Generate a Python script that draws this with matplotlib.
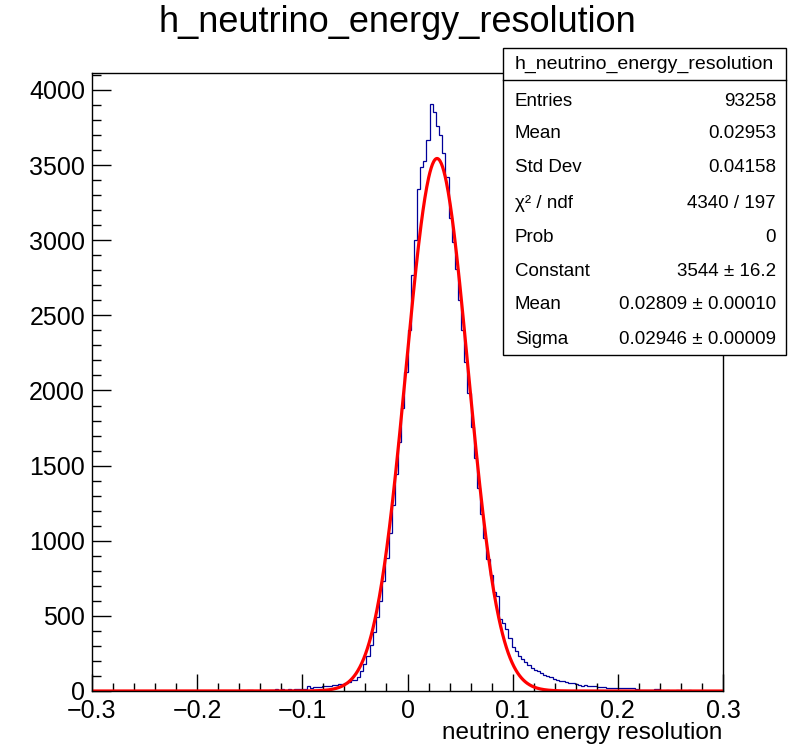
import numpy as np
import matplotlib
matplotlib.use("Agg")
import matplotlib.pyplot as plt
from matplotlib.patches import Rectangle
from matplotlib.lines import Line2D
from matplotlib.ticker import MultipleLocator

plt.rcParams['font.family'] = ['Liberation Sans', 'DejaVu Sans']

# histogram: 200 bins from -0.3 to 0.3, counts
x_min, x_max, n_bins = -0.3, 0.3, 200
counts = [
    # -0.300 .. -0.156
    0, 0, 0, 0, 0, 0, 0, 0, 0, 0, 0, 0, 0, 0, 0, 0, 0, 0, 0, 0,
    0, 0, 0, 0, 0, 0, 0, 0, 0, 0, 0, 0, 0, 0, 0, 0, 0, 0, 0, 0,
    0, 0, 0, 0, 1, 0, 0, 2,
    # -0.156 .. -0.051
    2, 8, 6, 0, 2, 0, 3, 0, 9, 7, 10, 2, 11, 9, 12, 5, 10, 12, 11, 13,
    30, 22, 25, 24, 27, 30, 34, 36, 38, 42, 44, 46, 52, 60, 72, 75,
    # -0.048 .. -0.003
    92, 135, 180, 235, 305, 390, 490, 600, 735, 885, 1050, 1240, 1445, 1660, 1885, 2120,
    # 0.000 .. 0.036
    2400, 2770, 3000, 3340, 3490, 3530, 3665, 3905, 3855, 3760, 3700, 3580, 3420,
    # 0.039 .. 0.084
    3150, 2990, 2810, 2600, 2400, 2190, 1980, 1760, 1550, 1350, 1180, 1020, 880, 770, 660, 630,
    # 0.087 .. 0.300
    480, 450, 410, 355, 290, 265, 235, 215, 190, 170, 155, 140, 130, 120, 108, 100, 90, 82,
    70, 68, 66, 62, 52, 50, 48, 40, 36, 38, 34, 36, 32, 29, 28, 27,
    22, 20, 21, 19, 20, 18, 19, 17, 18, 16, 6, 8, 5, 7, 4, 15, 14,
    3, 2, 4, 3, 2, 5, 3, 2, 3, 4, 2, 1, 3, 2, 1, 2, 1, 1, 2, 1,
]

# gaus fit parameters from the stats box
fit_constant = 3544
fit_mean = 0.02809
fit_sigma = 0.02946

hist_name = "h_neutrino_energy_resolution"
x_title = "neutrino energy resolution"
x_ticks = [-0.3, -0.2, -0.1, 0.0, 0.1, 0.2, 0.3]
x_tick_labels = ["\u22120.3", "\u22120.2", "\u22120.1", "0", "0.1", "0.2", "0.3"]
y_ticks = [0, 500, 1000, 1500, 2000, 2500, 3000, 3500, 4000]

stat_labels = ["Entries", "Mean", "Std Dev", "\u03c7\u00b2 / ndf", "Prob", "Constant", "Mean", "Sigma"]
stat_values = ["93258", "0.02953", "0.04158", "4340 / 197", "0",
               "3544 \u00b1 16.2", "0.02809 \u00b1 0.00010", "0.02946 \u00b1 0.00009"]

W, H = 798, 746
fig = plt.figure(figsize=(W / 100, H / 100), dpi=100)
ax = fig.add_axes([92 / W, 55 / H, 631 / W, 618 / H])

edges = np.linspace(x_min, x_max, n_bins + 1)
ax.stairs(counts, edges, color='#000099', linewidth=0.9)

xf = np.linspace(x_min, x_max, 1000)
yf = fit_constant * np.exp(-0.5 * ((xf - fit_mean) / fit_sigma) ** 2)
ax.plot(xf, yf, color='#ff0000', linewidth=2.3, solid_joinstyle='round')

ax.set_xlim(x_min, x_max)
ax.set_ylim(0, 4113)
ax.set_xticks(x_ticks)
ax.set_xticklabels(x_tick_labels)
ax.set_yticks(y_ticks)
ax.xaxis.set_minor_locator(MultipleLocator(0.02))
ax.yaxis.set_minor_locator(MultipleLocator(100))
ax.tick_params(which='both', direction='in', top=False, right=False, labelsize=18, width=1)
ax.tick_params(axis='x', which='major', length=12.5, pad=6)
ax.tick_params(axis='x', which='minor', length=6)
ax.tick_params(axis='y', which='major', length=13.5, pad=5)
ax.tick_params(axis='y', which='minor', length=6.5)
for s in ax.spines.values():
    s.set_linewidth(1)

fig.text(397 / W, 1 - 22 / H, hist_name, ha='center', va='center', fontsize=26)
fig.text(722 / W, 1 - 733 / H, x_title, ha='right', va='center', fontsize=17.5)

# stats box
bx0, bx1, by0, by1 = 503, 786, 48, 355
fig.patches.append(Rectangle((bx0 / W, 1 - by1 / H), (bx1 - bx0) / W, (by1 - by0) / H,
                             transform=fig.transFigure, facecolor='white',
                             edgecolor='black', linewidth=1, zorder=5))
fig.lines.append(Line2D([bx0 / W, bx1 / W], [1 - 80 / H, 1 - 80 / H],
                        transform=fig.transFigure, color='black', linewidth=1, zorder=6))
fig.text((bx0 + bx1) / 2 / W, 1 - 64 / H, hist_name, ha='center', va='center',
         fontsize=14, zorder=7)
row_y = [101, 134, 168, 203, 238, 271, 305, 339]
for lab, val, ry in zip(stat_labels, stat_values, row_y):
    fig.text(515 / W, 1 - ry / H, lab, ha='left', va='center', fontsize=13.5, zorder=7)
    fig.text(776 / W, 1 - ry / H, val, ha='right', va='center', fontsize=13.5, zorder=7)

fig.savefig("out.png", dpi=100)
